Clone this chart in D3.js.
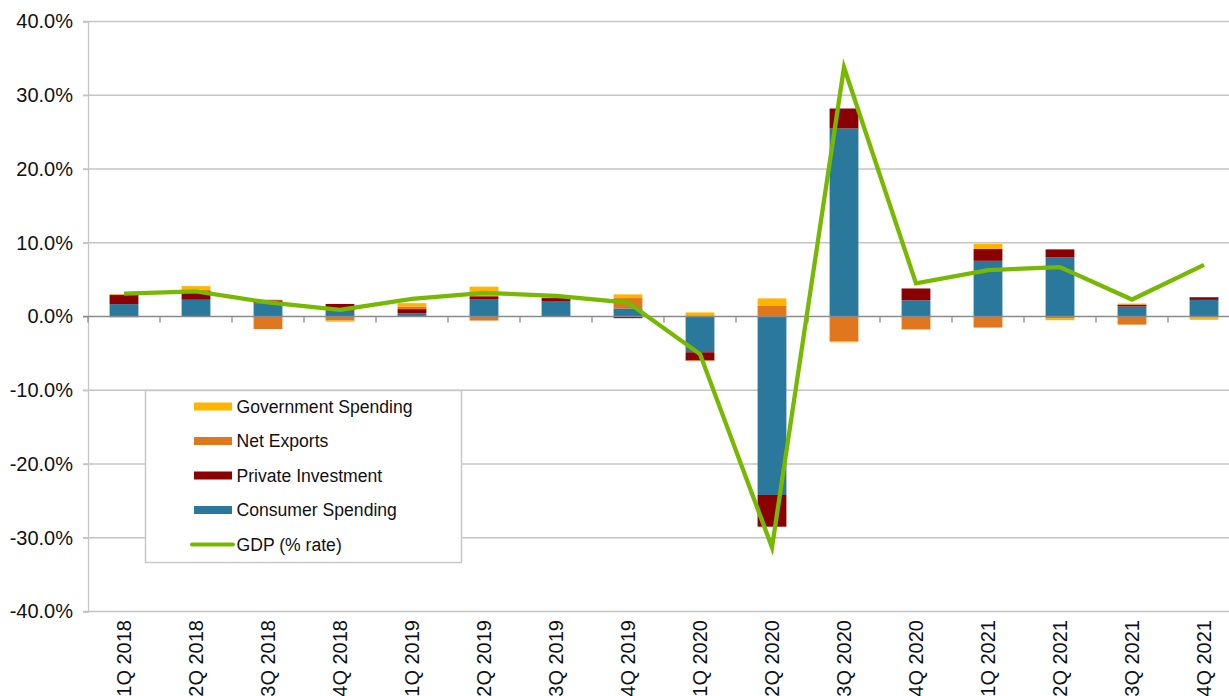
<!DOCTYPE html>
<html>
<head>
<meta charset="utf-8">
<script src="https://cdn.jsdelivr.net/npm/d3@7"></script>
<style>
  html, body { margin: 0; padding: 0; background: #fff; }
  svg { display: block; font-family: "Liberation Sans", Arial, Helvetica, sans-serif; }
</style>
</head>
<body>
<svg id="chart" width="1229" height="696"></svg>
<script>
const categories = ["1Q 2018","2Q 2018","3Q 2018","4Q 2018","1Q 2019","2Q 2019","3Q 2019","4Q 2019",
                    "1Q 2020","2Q 2020","3Q 2020","4Q 2020","1Q 2021","2Q 2021","3Q 2021","4Q 2021"];
const consumer   = [1.68, 2.27, 1.80, 0.80, 0.45, 2.30, 2.10, 1.10, -4.85, -24.2, 25.5, 2.20, 7.55, 8.00, 1.35, 2.25];
const investment = [1.27, 1.20, 0.40, 0.90, 0.55, 0.45, 0.40, -0.23, -1.10, -4.30, 2.70, 1.60, 1.60, 1.10, 0.27, 0.36];
const netExports = [-0.10, 0.20, -1.70, -0.55, 0.36, -0.55, 0.00, 1.40, -0.10, 1.50, -3.40, -1.70, -1.50, -0.20, -1.10, -0.05];
const government = [0.10, 0.45, 0.10, -0.15, 0.45, 1.30, 0.10, 0.50, 0.55, 0.95, -0.10, -0.10, 0.70, -0.30, 0.14, -0.40];
const gdp        = [3.1, 3.4, 1.9, 0.9, 2.4, 3.2, 2.8, 1.9, -5.1, -31.3, 33.8, 4.5, 6.3, 6.7, 2.3, 7.0];
const yTicks = [-40, -30, -20, -10, 0, 10, 20, 30, 40];

const seriesKeys   = ["consumer", "investment", "netExports", "government"];
const seriesNames  = {consumer: "Consumer Spending", investment: "Private Investment", netExports: "Net Exports", government: "Government Spending"};
const seriesColors = {consumer: "#2a789c", investment: "#8b0000", netExports: "#e0761e", government: "#ffb500"};
const gdpColor = "#77b800";

(function () {
const rows = categories.map((c, i) => ({
  cat: c, consumer: consumer[i], investment: investment[i], netExports: netExports[i], government: government[i]
}));

const svg = d3.select("#chart");
const W = 1229;
const mLeft = 88, mRight = 1240, mTop = 21.5, mBottom = 611.5;

const x = d3.scaleBand().domain(categories).range([mLeft, mRight]).paddingInner(0.6).paddingOuter(0.3);
const xBand = d3.scaleBand().domain(categories).range([mLeft, mRight]);
const y = d3.scaleLinear().domain([-40, 40]).range([mBottom, mTop]);

// gridlines
svg.append("g").selectAll("line").data(yTicks.filter(d => d !== 0)).join("line")
  .attr("x1", mLeft - 5).attr("x2", W)
  .attr("y1", d => y(d)).attr("y2", d => y(d))
  .attr("stroke", "#c4c4c4").attr("stroke-width", 1.3);

// y axis
const yAxis = d3.axisLeft(y).tickValues(yTicks).tickSize(5).tickPadding(10)
  .tickFormat(d => d.toFixed(1) + "%");
const gy = svg.append("g").attr("transform", `translate(${mLeft},0)`).call(yAxis);
gy.select(".domain").attr("stroke", "#c4c4c4").attr("stroke-width", 1.3);
gy.selectAll(".tick line").attr("stroke", "#c4c4c4").attr("stroke-width", 1.3);
gy.selectAll("text").attr("font-size", 20).attr("fill", "#111")
  .attr("font-family", "'Liberation Sans', Arial, Helvetica, sans-serif");

// stacked bars
const stack = d3.stack().keys(seriesKeys).offset(d3.stackOffsetDiverging);
const stacked = stack(rows);
svg.append("g").selectAll("g").data(stacked).join("g")
  .attr("fill", d => seriesColors[d.key])
  .selectAll("rect").data(d => d).join("rect")
  .attr("x", d => x(d.data.cat))
  .attr("width", x.bandwidth())
  .attr("y", d => y(Math.max(d[0], d[1])))
  .attr("height", d => Math.abs(y(d[0]) - y(d[1])));

// zero axis line with ticks
svg.append("line").attr("x1", mLeft - 5).attr("x2", W).attr("y1", y(0)).attr("y2", y(0))
  .attr("stroke", "#8a8a8a").attr("stroke-width", 1.6);
const boundaries = categories.map(c => xBand(c)).concat([mRight]);
svg.append("g").selectAll("line").data(boundaries).join("line")
  .attr("x1", d => d).attr("x2", d => d)
  .attr("y1", y(0)).attr("y2", y(0) + 6)
  .attr("stroke", "#8a8a8a").attr("stroke-width", 1.3);

// x labels
svg.append("g").selectAll("text").data(categories).join("text")
  .attr("transform", d => `translate(${xBand(d) + xBand.bandwidth() / 2},${620}) rotate(-90)`)
  .attr("text-anchor", "end").attr("dy", "0.35em")
  .attr("font-size", 20).attr("fill", "#111")
  .text(d => d);

// GDP line
const line = d3.line().x((d, i) => xBand(categories[i]) + xBand.bandwidth() / 2).y(d => y(d));
svg.append("path").datum(gdp).attr("d", line)
  .attr("fill", "none").attr("stroke", gdpColor).attr("stroke-width", 4.3)
  .attr("stroke-linejoin", "miter").attr("stroke-miterlimit", 20);

// legend
const lg = svg.append("g");
lg.append("rect").attr("x", 145.5).attr("y", 390.5).attr("width", 316).attr("height", 172)
  .attr("fill", "#fff").attr("stroke", "#c8c8c8").attr("stroke-width", 1.5);
const legendItems = ["government", "netExports", "investment", "consumer", "gdp"];
const legendY = d3.scalePoint().domain(legendItems).range([406.5, 544.5]);
legendItems.forEach(k => {
  const yy = legendY(k);
  if (k === "gdp") {
    lg.append("line").attr("x1", 192).attr("x2", 233).attr("y1", yy).attr("y2", yy)
      .attr("stroke", gdpColor).attr("stroke-width", 4).attr("stroke-linecap", "round");
  } else {
    lg.append("rect").attr("x", 194).attr("y", yy - 4).attr("width", 38).attr("height", 8)
      .attr("fill", seriesColors[k]);
  }
  lg.append("text").attr("x", 236.5).attr("y", yy).attr("dy", "0.35em")
    .attr("font-size", 17.6).attr("fill", "#111")
    .text(k === "gdp" ? "GDP (% rate)" : seriesNames[k]);
});
})();
</script>
</body>
</html>
